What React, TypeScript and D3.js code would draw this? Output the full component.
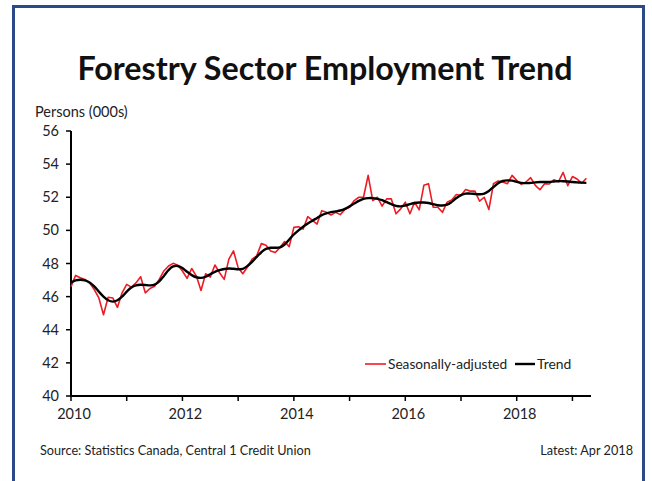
import React from "react";
import * as d3 from "d3";

// Monthly data, Jan 2010 .. Apr 2019 (month index 0..111)
const seasonallyAdjusted: number[] = [
  46.6, 47.28, 47.14, 47.04, 46.83, 46.43, 45.92, 44.91, 45.96, 45.92, 45.35, 46.23,
  46.74, 46.57, 46.83, 47.2, 46.23, 46.49, 46.63, 47.04, 47.55, 47.85, 48.01, 47.9,
  47.55, 47.1, 47.7, 47.24, 46.37, 47.38, 47.18, 47.91, 47.44, 47.04, 48.26, 48.76,
  47.75, 47.38, 47.79, 48.26, 48.46, 49.2, 49.1, 48.76, 48.66, 48.96, 49.33, 49.02,
  50.18, 50.22, 50.08, 50.83, 50.6, 50.38, 51.19, 51.09, 50.93, 51.09, 50.95, 51.26,
  51.4, 51.8, 52.0, 52.0, 53.32, 51.8, 52.0, 51.46, 51.9, 51.9, 51.0, 51.3,
  51.7, 51.0, 51.7, 51.24, 52.72, 52.82, 51.4, 51.4, 51.09, 51.7, 51.84, 52.17,
  52.1, 52.47, 52.37, 52.37, 51.76, 52.0, 51.26, 52.82, 52.98, 52.92, 52.82, 53.32,
  53.02, 52.78, 52.92, 53.18, 52.72, 52.45, 52.82, 52.8, 53.05, 52.95, 53.5, 52.7,
  53.25, 53.1, 52.85, 53.15,
];

const trend: number[] = [
  46.85, 46.98, 47.02, 46.98, 46.85, 46.62, 46.3, 46.0, 45.78, 45.7, 45.78, 46.0,
  46.3, 46.55, 46.68, 46.72, 46.7, 46.68, 46.72, 46.92, 47.25, 47.6, 47.82, 47.85,
  47.72, 47.5, 47.3, 47.17, 47.13, 47.2, 47.35, 47.5, 47.6, 47.67, 47.7, 47.68,
  47.65, 47.68, 47.85, 48.1, 48.4, 48.68, 48.88, 48.95, 48.95, 48.98, 49.15, 49.45,
  49.75, 50.0, 50.22, 50.42, 50.58, 50.75, 50.92, 51.03, 51.1, 51.15, 51.2, 51.3,
  51.45, 51.62, 51.78, 51.9, 51.95, 51.95, 51.9, 51.82, 51.7, 51.58, 51.48, 51.45,
  51.5, 51.58, 51.65, 51.68, 51.68, 51.65, 51.58, 51.52, 51.5, 51.55, 51.72, 51.95,
  52.13, 52.22, 52.22, 52.2, 52.18, 52.22, 52.38, 52.62, 52.85, 52.98, 53.02, 53.0,
  52.93, 52.87, 52.85, 52.87, 52.9, 52.92, 52.92, 52.93, 52.95, 52.97, 52.97, 52.95,
  52.92, 52.9, 52.88, 52.87,
];

const yearTicks: number[] = [2010, 2011, 2012, 2013, 2014, 2015, 2016, 2017, 2018, 2019];
const yearLabels: number[] = [2010, 2012, 2014, 2016, 2018];
const yTicks: number[] = [40, 42, 44, 46, 48, 50, 52, 54, 56];

const title = "Forestry Sector Employment Trend";
const yTitle = "Persons (000s)";
const source = "Source: Statistics Canada, Central 1 Credit Union";
const latest = "Latest: Apr 2018";
const legendLabels = ["Seasonally-adjusted", "Trend"];

const RED = "#ed1c24";
const FONT = "Lato, 'Open Sans', sans-serif";

export default function App() {
  const x = d3.scaleLinear().domain([0, 112]).range([71, 591]);
  const y = d3.scaleLinear().domain([40, 56]).range([396, 131]);

  const redLine = d3
    .line<number>()
    .x((_, i) => x(i))
    .y((d) => y(d))
    .curve(d3.curveLinear);
  const trendLine = d3
    .line<number>()
    .x((_, i) => x(i))
    .y((d) => y(d))
    .curve(d3.curveCatmullRom);

  const monthOf = (yr: number) => (yr - 2010) * 12;

  return (
    <svg
      width={652}
      height={481}
      style={{ position: "fixed", left: 0, top: 0, background: "#fff" }}
      fontFamily={FONT}
    >
      <rect x={0} y={0} width={652} height={481} fill="#fff" />
      <rect x={13.5} y={6.5} width={630} height={520} fill="none" stroke="#2c4a8a" strokeWidth={3} />

      <text
        x={325}
        y={80}
        textAnchor="middle"
        fontSize={33}
        fontWeight={700}
        fill="#111"
        textLength={495}
        lengthAdjust="spacingAndGlyphs"
      >
        {title}
      </text>

      <text x={35} y={117} fontSize={14.5} fill="#222">
        {yTitle}
      </text>

      {/* y axis */}
      <line x1={71} x2={71} y1={y(56)} y2={y(40) + 1} stroke="#000" strokeWidth={2} />
      {yTicks.map((t) => (
        <g key={t}>
          <line x1={66} x2={71} y1={y(t)} y2={y(t)} stroke="#000" strokeWidth={1.5} />
          <text x={59} y={y(t) + 5} textAnchor="end" fontSize={14.5} fill="#222">
            {t}
          </text>
        </g>
      ))}

      {/* x axis */}
      <line x1={70} x2={x(112)} y1={y(40)} y2={y(40)} stroke="#000" strokeWidth={2} />
      {yearTicks.map((t) => (
        <line
          key={t}
          x1={x(monthOf(t))}
          x2={x(monthOf(t))}
          y1={y(40)}
          y2={y(40) + 5}
          stroke="#000"
          strokeWidth={1.5}
        />
      ))}
      {yearLabels.map((t) => (
        <text key={t} x={x(monthOf(t)) + 3} y={419} textAnchor="middle" fontSize={14.5} fill="#222">
          {t}
        </text>
      ))}

      {/* series */}
      <path d={redLine(seasonallyAdjusted) || ""} fill="none" stroke={RED} strokeWidth={1.6} strokeLinejoin="round" />
      <path d={trendLine(trend) || ""} fill="none" stroke="#000" strokeWidth={2.4} strokeLinejoin="round" />

      {/* legend */}
      <line x1={365} x2={386} y1={364} y2={364} stroke={RED} strokeWidth={1.6} />
      <text x={388} y={369} fontSize={13.7} fill="#222">
        {legendLabels[0]}
      </text>
      <line x1={515} x2={535} y1={364} y2={364} stroke="#000" strokeWidth={2.4} />
      <text x={537} y={369} fontSize={13.9} fill="#222">
        {legendLabels[1]}
      </text>

      {/* footer */}
      <text x={40} y={455} fontSize={12.7} fill="#222">
        {source}
      </text>
      <text x={633} y={455} textAnchor="end" fontSize={12.7} fill="#222">
        {latest}
      </text>
    </svg>
  );
}
